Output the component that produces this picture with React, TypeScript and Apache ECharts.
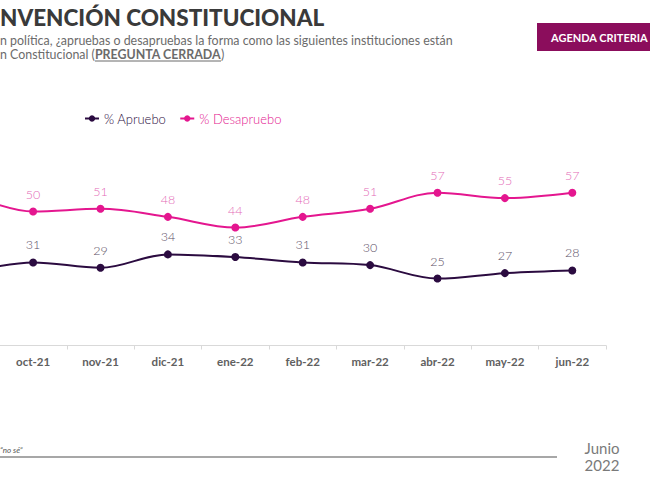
import React, { useEffect, useRef } from "react";
import * as echarts from "echarts";

const categories = ["sep-21", "oct-21", "nov-21", "dic-21", "ene-22", "feb-22", "mar-22", "abr-22", "may-22", "jun-22"];
const apruebo = [27, 31, 29, 34, 33, 31, 30, 25, 27, 28];
const desapruebo = [57, 50, 51, 48, 44, 48, 51, 57, 55, 57];
const seriesNames = ["% Apruebo", "% Desapruebo"];

const OX = 68; // chart div is shifted left by this much (cropped source)
const FONT = "Lato, 'Open Sans', sans-serif";

function measure(text: string, font: string): number {
  const c = document.createElement("canvas").getContext("2d");
  if (!c) return text.length * 6;
  c.font = font;
  return c.measureText(text).width;
}

export default function App() {
  const ref = useRef<HTMLDivElement>(null);
  useEffect(() => {
    if (!ref.current) return;
    const chart = echarts.init(ref.current, undefined, { renderer: "svg" });
    const DARK = "#2b0b40";
    const PINK = "#e4168f";
    const subFont = `12.4px ${FONT}`;
    const subBold = `bold 12.4px ${FONT}`;
    const pre = "n Constitucional (";
    const mid = "PREGUNTA CERRADA";
    const preW = measure(pre, subFont);
    const midW = measure(mid, subBold);
    const hideFirst = (arr: number[]) =>
      arr.map((v, i) => (i === 0 ? { value: v, label: { show: false } } : v));
    chart.setOption({
      animation: false,
      backgroundColor: "#ffffff",
      grid: { left: 0, right: 44, top: 77.5, bottom: 141.5 },
      legend: {
        left: 84 + OX,
        top: 112,
        padding: 0,
        itemWidth: 14,
        itemHeight: 8,
        itemGap: 13,
        textStyle: { fontFamily: FONT, fontSize: 13, fontWeight: 300 },
        data: [
          { name: seriesNames[0], textStyle: { color: DARK } },
          { name: seriesNames[1], textStyle: { color: PINK } },
        ],
      },
      xAxis: {
        type: "category",
        data: categories,
        boundaryGap: true,
        axisLine: { lineStyle: { color: "#d9d9d9", width: 1 } },
        axisTick: { show: true, length: 4, lineStyle: { color: "#d9d9d9" } },
        axisLabel: {
          color: "#606060",
          fontFamily: FONT,
          fontSize: 11.5,
          fontWeight: "bold",
          margin: 10,
          formatter: (v: string, i: number) => (i === 0 ? "" : v),
        },
      },
      yAxis: { type: "value", min: 0, max: 100, show: false, splitLine: { show: false } },
      series: [
        {
          name: seriesNames[0],
          type: "line",
          data: hideFirst(apruebo),
          smooth: 0.35,
          symbol: "circle",
          symbolSize: 8,
          itemStyle: { color: DARK },
          lineStyle: { color: DARK, width: 2 },
          label: { show: true, position: "top", distance: 7, color: "#5b4f66", fontFamily: FONT, fontSize: 12.5, fontWeight: 300 },
        },
        {
          name: seriesNames[1],
          type: "line",
          data: hideFirst(desapruebo),
          smooth: 0.35,
          symbol: "circle",
          symbolSize: 8,
          itemStyle: { color: PINK },
          lineStyle: { color: PINK, width: 2 },
          label: { show: true, position: "top", distance: 7, color: "#e46bb7", fontFamily: FONT, fontSize: 12.5, fontWeight: 300 },
        },
      ],
      graphic: [
        {
          type: "text",
          x: OX + 0,
          y: 17,
          style: { text: "NVENCIÓN CONSTITUCIONAL", fill: "#3a3a3a", font: `900 22.5px ${FONT}`, verticalAlign: "middle" },
        },
        {
          type: "text",
          x: OX + 0,
          y: 40,
          style: {
            text: "n política, ¿apruebas o desapruebas la forma como las siguientes instituciones están",
            fill: "#6b6b6b",
            font: subFont,
            verticalAlign: "middle",
          },
        },
        {
          type: "text",
          x: OX + 0,
          y: 54,
          style: { text: pre, fill: "#6b6b6b", font: subFont, verticalAlign: "middle" },
        },
        {
          type: "text",
          x: OX + preW,
          y: 54,
          style: { text: mid, fill: "#6b6b6b", font: subBold, verticalAlign: "middle" },
        },
        {
          type: "text",
          x: OX + preW + midW,
          y: 54,
          style: { text: ")", fill: "#6b6b6b", font: subFont, verticalAlign: "middle" },
        },
        {
          type: "line",
          shape: { x1: OX + preW, y1: 61, x2: OX + preW + midW, y2: 61 },
          style: { stroke: "#6b6b6b", lineWidth: 1 },
        },
        {
          type: "rect",
          shape: { x: OX + 537, y: 23, width: 130, height: 28 },
          style: { fill: "#8b0d5c" },
        },
        {
          type: "text",
          x: OX + 551,
          y: 37,
          style: { text: "AGENDA CRITERIA", fill: "#ffffff", font: `bold 11px ${FONT}`, verticalAlign: "middle" },
        },
        {
          type: "text",
          x: OX + 0,
          y: 450,
          style: { text: "“no sé”", fill: "#555555", font: `italic 8px ${FONT}`, verticalAlign: "middle" },
        },
        {
          type: "line",
          shape: { x1: OX - 10, y1: 457, x2: OX + 557, y2: 457 },
          style: { stroke: "#8a8a8a", lineWidth: 1.5 },
        },
        {
          type: "text",
          x: OX + 602,
          y: 448,
          style: { text: "Junio", fill: "#7a7a7a", font: `15px ${FONT}`, align: "center", verticalAlign: "middle" },
        },
        {
          type: "text",
          x: OX + 602,
          y: 465,
          style: { text: "2022", fill: "#7a7a7a", font: `15px ${FONT}`, align: "center", verticalAlign: "middle" },
        },
      ],
    });
    return () => chart.dispose();
  }, []);
  return (
    <div style={{ position: "fixed", left: 0, top: 0, width: 650, height: 487, overflow: "hidden", background: "#fff" }}>
      <div ref={ref} style={{ position: "absolute", left: -OX, top: 0, width: 650 + OX, height: 487 }} />
    </div>
  );
}
